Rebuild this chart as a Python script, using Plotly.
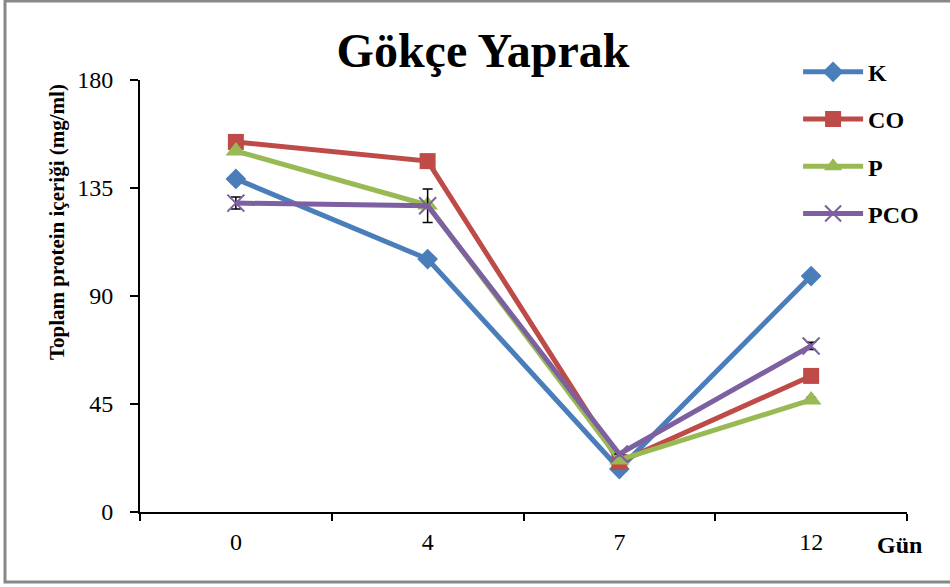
import plotly.graph_objects as go

days = ["0", "4", "7", "12"]
k_vals = [138.8, 105.4, 17.9, 98.3]
co_vals = [154.2, 146.2, 20.8, 56.7]
p_vals = [150.4, 127.9, 21.7, 46.7]
pco_vals = [128.7, 127.6, 24.2, 69.2]
pco_err = [2.5, 7.0, 0.0, 1.5]
p_err = [0.0, 0.0, 0.0, 1.0]

series = [
    ("K", k_vals, "#4A7EBB", "diamond", 16, None),
    ("CO", co_vals, "#BE4B48", "square", 16, None),
    ("P", p_vals, "#98B954", "triangle-up", 18, p_err),
    ("PCO", pco_vals, "#7D60A0", "x-thin", 17, pco_err),
]

fig = go.Figure()
for i, (name, vals, color, sym, size, err) in enumerate(series):
    marker = dict(symbol=sym, size=size, color=color)
    if sym == "x-thin":
        marker["line"] = dict(width=2, color=color)
    else:
        marker["line"] = dict(width=0)
    tr = dict(
        x=days, y=vals, name="<b>" + name + "</b>", mode="lines+markers",
        line=dict(color=color, width=5),
        marker=marker,
        legendgroup=name,
    )
    if err is not None:
        tr["error_y"] = dict(type="data", array=err, visible=True,
                             color="black", thickness=1.5, width=5)
    fig.add_trace(go.Scatter(**tr))

fig.update_layout(
    width=950, height=587,
    margin=dict(l=140, r=43, t=80, b=75),
    paper_bgcolor="white", plot_bgcolor="white",
    font=dict(family="Liberation Serif", color="black", size=24),
    title=dict(text="<b>Gökçe Yaprak</b>", x=483/950, xref="container", xanchor="center",
               y=1 - 50/587, yref="container", yanchor="middle",
               font=dict(size=48, family="Liberation Serif", color="black")),
    showlegend=True,
    legend=dict(x=0.858, xanchor="left", y=1.07, yanchor="top",
                font=dict(size=24, family="Liberation Serif", color="black"),
                tracegroupgap=13, bgcolor="rgba(0,0,0,0)",
                itemwidth=60),
    xaxis=dict(type="category", range=[-0.5, 3.5], showline=True, linecolor="black",
               linewidth=2, ticks="outside", tickson="boundaries", ticklen=7,
               tickwidth=2, tickcolor="black", showgrid=False, zeroline=False,
               ticklabelstandoff=7,
               tickfont=dict(size=24, family="Liberation Serif")),
    yaxis=dict(range=[0, 180], tickvals=[0, 45, 90, 135, 180], showline=True,
               linecolor="black", linewidth=2, ticks="outside", ticklen=8,
               tickwidth=2, tickcolor="black", showgrid=False, zeroline=False,
               ticklabelstandoff=12,
               tickfont=dict(size=24, family="Liberation Serif")),
)

fig.add_annotation(text="<b>Toplam protein içeriği (mg/ml)</b>", textangle=-90,
                   x=(57 - 140) / 767, xref="paper", y=(512 - 222) / 432, yref="paper",
                   showarrow=False, xanchor="center", yanchor="middle",
                   font=dict(size=21, family="Liberation Serif", color="black"))

fig.add_annotation(text="<b>Gün</b>", x=(899 - 140) / 767, xref="paper",
                   y=(512 - 545) / 432, yref="paper",
                   showarrow=False, xanchor="center", yanchor="middle",
                   font=dict(size=24, family="Liberation Serif", color="black"))

fig.add_shape(type="rect", xref="paper", yref="paper",
              x0=(5 - 140) / 767, x1=(960 - 140) / 767,
              y0=(512 - 582) / 432, y1=(512 - 1) / 432,
              line=dict(color="#888888", width=3), fillcolor="rgba(0,0,0,0)",
              layer="below")

fig.write_html("out.html", config={"displayModeBar": False},
               post_script="document.body.style.margin='0';")
